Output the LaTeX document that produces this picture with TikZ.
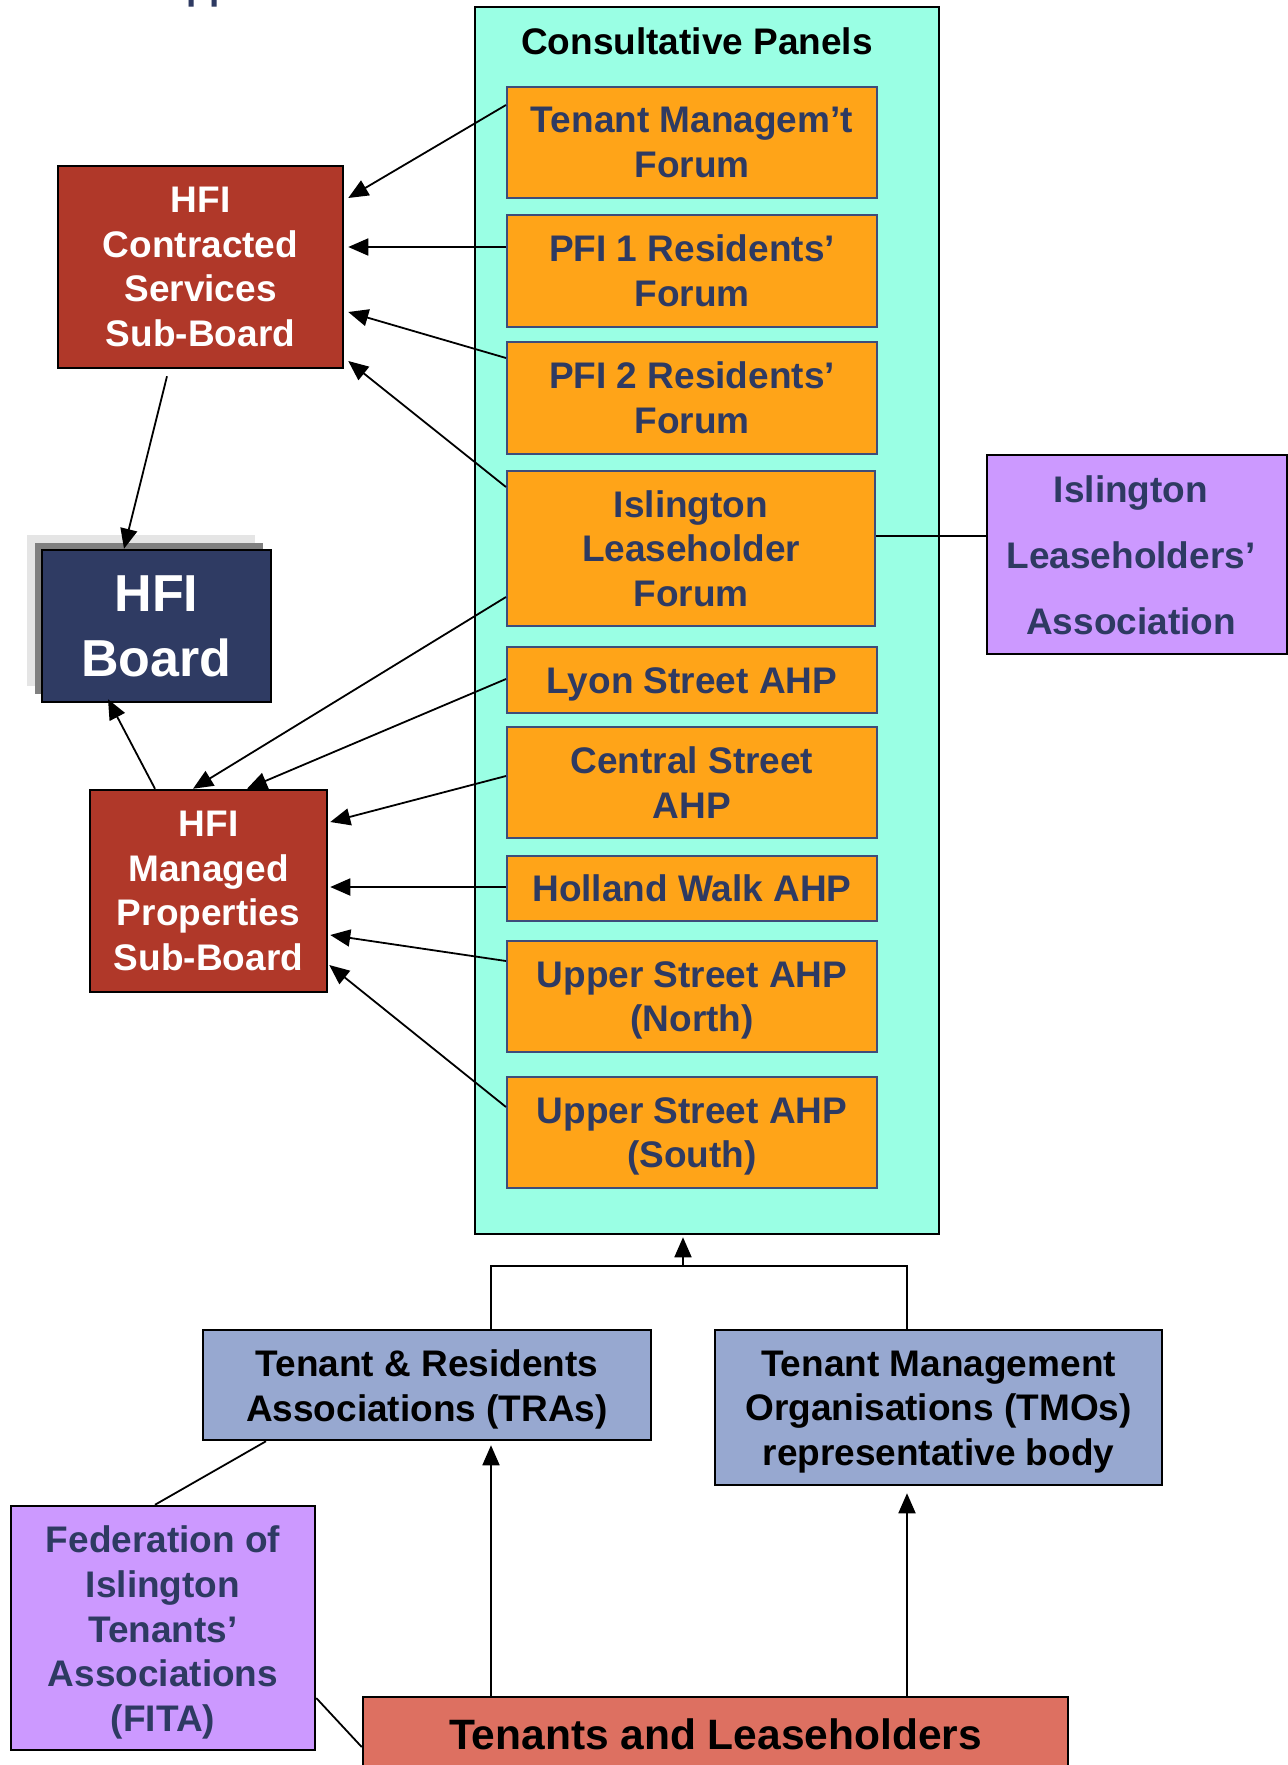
\documentclass[tikz,border=0pt]{standalone}
\usepackage{fontspec}
\setmainfont{Liberation Sans}
\usetikzlibrary{arrows.meta,calc}
\definecolor{cteal}{RGB}{154,255,228}
\definecolor{corange}{RGB}{255,164,24}
\definecolor{cobord}{RGB}{62,76,122}
\definecolor{cred}{RGB}{176,56,41}
\definecolor{cnavy}{RGB}{47,59,99}
\definecolor{cpurple}{RGB}{204,153,255}
\definecolor{cblue}{RGB}{151,168,208}
\definecolor{csalmon}{RGB}{221,112,97}
\definecolor{ctext}{RGB}{46,58,98}
\definecolor{clight}{RGB}{229,229,229}
\definecolor{cgray}{RGB}{128,128,128}
\tikzset{
  box/.style={draw=black, line width=2.5pt, inner sep=0pt, align=center,
    font=\bfseries\fontsize{37}{44.7}\selectfont},
  obox/.style={box, fill=corange, draw=cobord, line width=2pt, text=ctext,
    minimum width=370pt},
  redbox/.style={box, fill=cred, text=white},
  purplebox/.style={box, fill=cpurple, text=ctext},
  bluebox/.style={box, fill=cblue, text=black},
  txt/.style={inner sep=0pt, align=center, font=\bfseries\fontsize{37}{44.7}\selectfont},
  arr/.style={-{Triangle[length=20pt,width=17pt]}, line width=1.8pt},
  ln/.style={line width=1.8pt},
}
\begin{document}
\begin{tikzpicture}[x=1pt,y=-1pt]
\clip (0,0) rectangle (1288,1765);
\fill[white] (0,0) rectangle (1288,1765);

% clipped heading at the top edge
\node[anchor=base west, inner sep=0pt, text=ctext,
  font=\bfseries\fontsize{37}{44}\selectfont] (head) at (160,-1) {Appendix};

% consultative panels container
\node[draw=black, line width=2.5pt, fill=cteal, minimum width=464pt,
  minimum height=1227pt, inner sep=0pt] (panel) at (707,620.5) {};
\node[inner sep=0pt, font=\bfseries\fontsize{37}{44}\selectfont] (title)
  at (697,41) {Consultative Panels};

\node[obox, minimum height=111pt] (tmf) at (692,142.5) {Tenant Managem't\\Forum};
\node[obox, minimum height=112pt] (pfi1) at (692,271) {PFI 1 Residents'\\Forum};
\node[obox, minimum height=112pt] (pfi2) at (692,398) {PFI 2 Residents'\\Forum};
\node[obox, minimum width=368pt, minimum height=155pt] (ilf) at (691,548.5)
  {Islington\\Leaseholder\\Forum};
\node[obox, minimum height=66pt] (lyon) at (692,680) {};
\node[txt, text=ctext] (lyontext) at ([yshift=-4pt]lyon.center) {Lyon Street AHP};
\node[obox, minimum height=111pt] (central) at (692,782.5) {Central Street\\AHP};
\node[obox, minimum height=65pt] (holland) at (692,888.5) {Holland Walk AHP};
\node[obox, minimum height=111pt] (uppern) at (692,996.5) {};
\node[txt, text=ctext] (uppertextn) at ([yshift=-4pt]uppern.center) {Upper Street AHP\\(North)};
\node[obox, minimum height=111pt] (uppers) at (692,1132.5) {};
\node[txt, text=ctext] (uppertexts) at ([yshift=-4pt]uppers.center) {Upper Street AHP\\(South)};

% left side boards
\node[redbox, minimum width=285pt, minimum height=202pt] (cssb) at (200.5,267)
  {HFI\\Contracted\\Services\\Sub-Board};
\node[fill=clight, minimum width=228pt, minimum height=151pt, inner sep=0pt]
  (shadowa) at (141,610.5) {};
\node[fill=cgray, minimum width=228pt, minimum height=151pt, inner sep=0pt]
  (shadowb) at (149,618.5) {};
\node[box, fill=cnavy, text=white, minimum width=229pt, minimum height=152pt,
  font=\bfseries\fontsize{52}{65}\selectfont] (board) at (156.5,626) {HFI\\Board};
\node[redbox, minimum width=237pt, minimum height=202pt] (mpsb) at (208.5,891)
  {HFI\\Managed\\Properties\\Sub-Board};

% right side association
\node[purplebox, minimum width=300pt, minimum height=199pt] (ila) at (1137,554.5) {};
\node[txt, text=ctext, font=\bfseries\fontsize{37}{66}\selectfont] (ilatext)
  at ([xshift=-6pt,yshift=-1pt]ila.center) {Islington\\Leaseholders'\\Association};

% bottom boxes
\node[bluebox, minimum width=448pt, minimum height=110pt] (tra) at (427,1385) {};
\node[txt] (tratext) at ([yshift=-4.5pt]tra.center) {Tenant \& Residents\\Associations (TRAs)};
\node[bluebox, minimum width=447pt, minimum height=155pt] (tmo) at (938.5,1407.5) {};
\node[txt] (tmotext) at ([yshift=-4.5pt]tmo.center)
  {Tenant Management\\Organisations (TMOs)\\representative body};
\node[purplebox, minimum width=304pt, minimum height=244pt] (fita) at (163,1628) {};
\node[txt, text=ctext] (fitatext) at ([yshift=-4.5pt]fita.center)
  {Federation of\\Islington\\Tenants'\\Associations\\(FITA)};
\node[box, fill=csalmon, text=black, minimum width=705pt, minimum height=75pt,
  font=\bfseries\fontsize{42.5}{50}\selectfont] (tl) at (715.5,1734.5)
  {Tenants and Leaseholders};

% connectors to contracted services sub-board
\draw[arr] ([yshift=37.5pt]tmf.west) -- ([xshift=4pt,yshift=69pt]cssb.east);
\draw[arr] ([yshift=24pt]pfi1.west) -- ([xshift=4pt,yshift=20pt]cssb.east);
\draw[arr] ([yshift=40pt]pfi2.west) -- ([xshift=4pt,yshift=-45pt]cssb.east);
\draw[arr] ([yshift=61.5pt]ilf.west) -- ([xshift=4pt,yshift=-94pt]cssb.east);
\draw[arr] ([xshift=-33.5pt,yshift=-7pt]cssb.south) -- ([xshift=-32.5pt]board.north);

% connectors to managed properties sub-board
\draw[arr] ([xshift=-53.5pt]mpsb.north) -- ([xshift=-48.5pt,yshift=4pt]board.south);
\draw[arr] ([yshift=-48.5pt]ilf.west) -- ([xshift=-15.5pt]mpsb.north);
\draw[arr] ([yshift=1pt]lyon.west) -- ([xshift=38.5pt]mpsb.north);
\draw[arr] ([yshift=6.5pt]central.west) -- ([xshift=2pt,yshift=69pt]mpsb.east);
\draw[arr] ([yshift=1.5pt]holland.west) -- ([xshift=2pt,yshift=4pt]mpsb.east);
\draw[arr] ([yshift=35.5pt]uppern.west) -- ([xshift=2pt,yshift=-44pt]mpsb.east);
\draw[arr] ([yshift=25.5pt]uppers.west) -- ([xshift=1pt,yshift=-74pt]mpsb.east);

% leaseholder forum to association
\draw[ln] ([yshift=12.5pt]ilf.east) -- ([yshift=18.5pt]ila.west);

% bottom tree
\coordinate (tratop) at ([xshift=64pt]tra.north);
\coordinate (tmotop) at ([xshift=-31.5pt]tmo.north);
\coordinate (jl) at ($(tratop)+(0,-63)$);
\coordinate (jr) at (jl -| tmotop);
\coordinate (jm) at ($(jl)+(192,0)$);
\draw[ln] (tratop) -- (jl) -- (jr) -- (tmotop);
\draw[arr] (jm) -- ([yshift=-2pt]panel.south -| jm);

\coordinate (trabot) at ([xshift=64pt,yshift=-4pt]tra.south);
\coordinate (tmobot) at ([xshift=-31.5pt,yshift=-7pt]tmo.south);
\draw[arr] (tl.north -| trabot) -- (trabot);
\draw[arr] (tl.north -| tmobot) -- (tmobot);

\draw[ln] ([xshift=-161pt]tra.south) -- ([xshift=-8pt]fita.north);
\draw[ln] ([yshift=-70pt]fita.east) -- ([yshift=-12.5pt]tl.west);
\end{tikzpicture}
\end{document}
